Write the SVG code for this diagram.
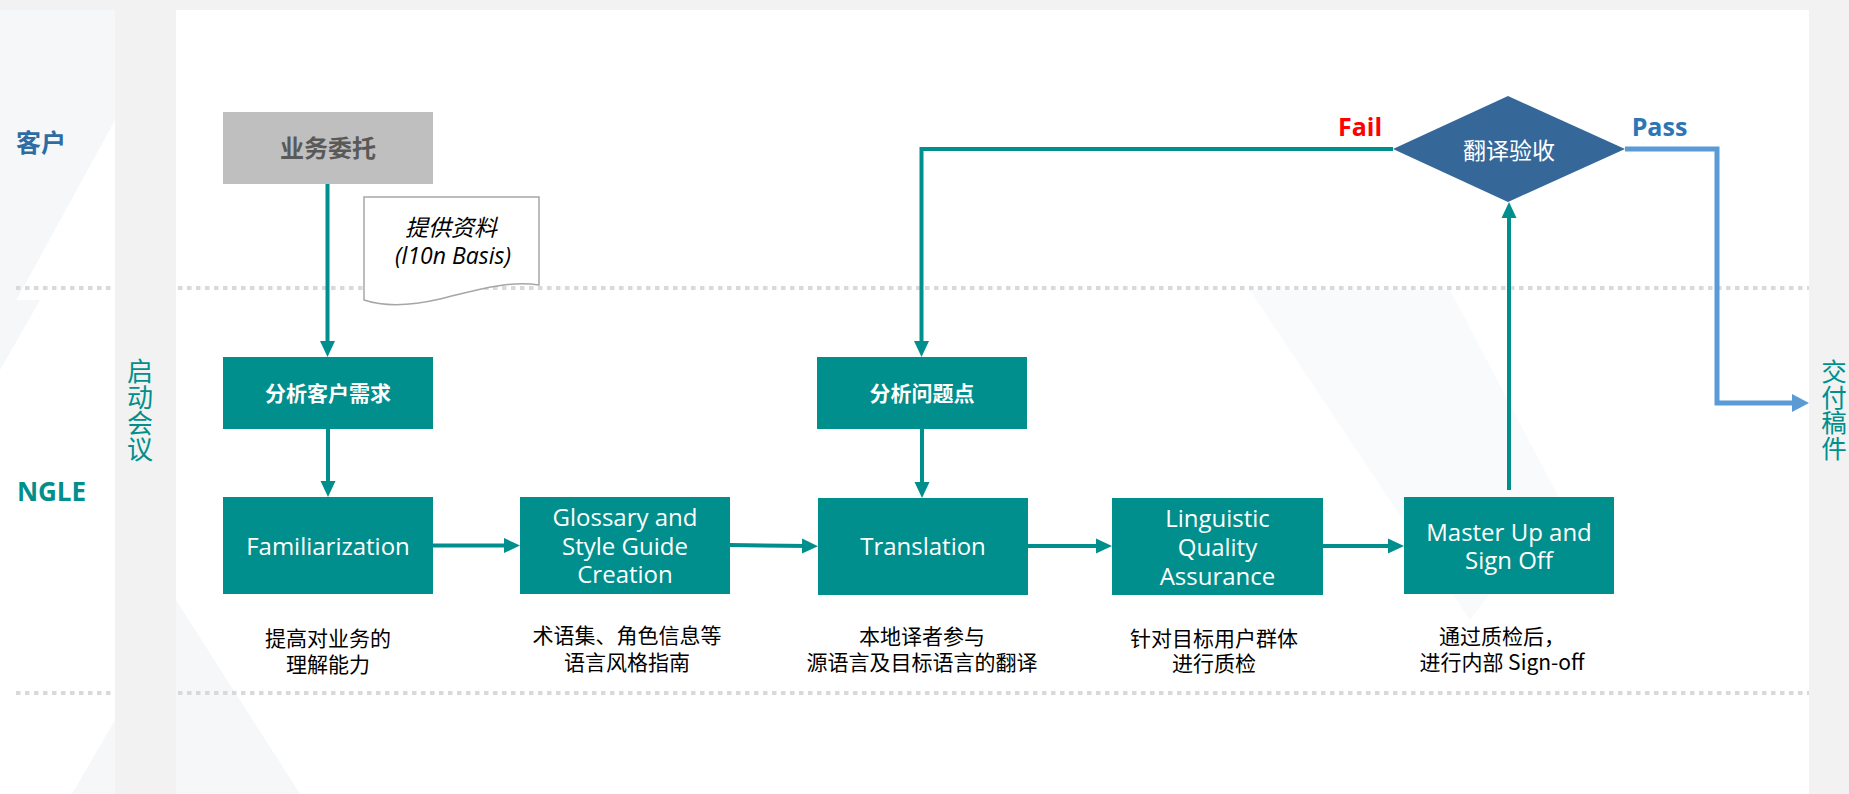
<svg xmlns="http://www.w3.org/2000/svg" width="1849" height="794" viewBox="0 0 1849 794">
<defs>
<style>
.box{fill:#008F8C}
.btxt{font-family:"Open Sans","Noto Sans",sans-serif;font-size:24px;fill:#fff;text-anchor:middle}
.cbtxt{font-family:"Noto Sans CJK SC",sans-serif;font-size:21px;font-weight:bold;fill:#fff;text-anchor:middle}
.desc{font-family:"Noto Sans CJK SC",sans-serif;font-size:21px;fill:#000;text-anchor:middle}
.conn{fill:none;stroke:#008F8C;stroke-width:4}
.dot{stroke:#D9D9D9;stroke-width:4;stroke-dasharray:4.5 4.5}
.vlab{font-family:"Noto Sans CJK SC",sans-serif;font-size:26px;fill:#008F8C;writing-mode:vertical-rl}
.faint{fill:#F5F7F8}
</style>
<marker id="ah" markerUnits="userSpaceOnUse" markerWidth="16" markerHeight="16" viewBox="0 0 16 16" refX="6" refY="8" orient="auto"><path d="M0,0.5 L16,8 L0,15.5 z" fill="#008F8C"/></marker>
</defs>
<rect width="1849" height="794" fill="#FFFFFF"/>
<rect x="0" y="0" width="1849" height="10" fill="#F2F2F2"/>
<g id="background">
<polygon class="faint" points="0,10 115,10 115,120 0,330"/>
<polygon class="faint" points="176,600 300,794 176,794"/>
<polygon class="faint" points="115,720 115,794 72,794"/>
<polygon class="faint" points="0,300 40,300 0,370"/>
<polygon class="faint" opacity="0.6" points="1250,290 1450,290 1560,500 1470,620"/>
</g>
<g id="lanes">
<line class="dot" x1="16" y1="288" x2="1809" y2="288"/>
<line class="dot" x1="16" y1="693" x2="1809" y2="693"/>
<rect x="115" y="10" width="61" height="784" fill="#F2F2F2"/>
<rect x="1809" y="10" width="40" height="784" fill="#F2F2F2"/>
</g>
<g id="labels">
<text x="41" y="152" style="font-family:'Noto Sans CJK SC',sans-serif;font-size:25px;font-weight:bold;fill:#2E6CA4;text-anchor:middle">客户</text>
<text x="51.5" y="501" style="font-family:'Open Sans',sans-serif;font-size:26px;font-weight:bold;fill:#008F8C;text-anchor:middle">NGLE</text>
<text class="vlab" x="140" y="358">启动会议</text>
<text class="vlab" x="1834" y="359" style="font-size:25.5px">交付稿件</text>
</g>
<g id="connectors">
<path class="conn" d="M327.5,184 V347" marker-end="url(#ah)"/>
<path class="conn" d="M328,429 V487" marker-end="url(#ah)"/>
<path class="conn" d="M433,545.5 H510" marker-end="url(#ah)"/>
<path class="conn" d="M730,545 L808,546" marker-end="url(#ah)"/>
<path class="conn" d="M922,429 V488" marker-end="url(#ah)"/>
<path class="conn" d="M1028,546 H1102" marker-end="url(#ah)"/>
<path class="conn" d="M1323,546 H1394" marker-end="url(#ah)"/>
<path class="conn" d="M1509,490 V212" marker-end="url(#ah)"/>
<path class="conn" d="M1393,149 H921.5 V347" marker-end="url(#ah)"/>
<path d="M1625,149 H1717 V403 H1794" fill="none" stroke="#5B9BD5" stroke-width="5"/>
<polygon points="1792,394 1809,403 1792,412" fill="#5B9BD5"/>
<text x="1360" y="136" style="font-family:'Open Sans',sans-serif;font-size:25px;font-weight:bold;fill:#FF0000;text-anchor:middle">Fail</text>
<text x="1659.5" y="136" style="font-family:'Open Sans',sans-serif;font-size:25px;font-weight:bold;fill:#2E75B6;text-anchor:middle">Pass</text>
</g>
<g id="node-entrust">
<rect x="223" y="112" width="210" height="72" fill="#BFBFBF"/>
<text x="328" y="157" style="font-family:'Noto Sans CJK SC',sans-serif;font-size:24px;font-weight:bold;fill:#595959;text-anchor:middle">业务委托</text>
</g>
<g id="node-doc">
<path d="M364,197 H539 V285 C505,280 470,292 440,299 C410,306 385,307 364,300 Z" fill="#FFFFFF" stroke="#A6A6A6" stroke-width="1.5"/>
<text x="451" y="236" style="font-family:'Noto Sans CJK SC',sans-serif;font-size:23px;font-style:italic;fill:#000;text-anchor:middle">提供资料</text>
<text x="453" y="264" style="font-family:'Open Sans',sans-serif;font-size:23px;font-style:italic;fill:#000;text-anchor:middle">(l10n Basis)</text>
</g>
<g id="node-analyze-client">
<rect class="box" x="223" y="357" width="210" height="72"/>
<text class="cbtxt" x="328" y="401">分析客户需求</text>
</g>
<g id="node-analyze-issue">
<rect class="box" x="817" y="357" width="210" height="72"/>
<text class="cbtxt" x="922" y="401">分析问题点</text>
</g>
<g id="node-familiarization">
<rect class="box" x="223" y="497" width="210" height="97"/>
<text class="btxt" x="328" y="554.5">Familiarization</text>
<text class="desc"><tspan x="328" y="646">提高对业务的</tspan><tspan x="328" y="672">理解能力</tspan></text>
</g>
<g id="node-glossary">
<rect class="box" x="520" y="497" width="210" height="97"/>
<text class="btxt"><tspan x="625" y="525.5">Glossary and</tspan><tspan x="625" y="554.5">Style Guide</tspan><tspan x="625" y="583">Creation</tspan></text>
<text class="desc"><tspan x="627" y="643">术语集、角色信息等</tspan><tspan x="627" y="670">语言风格指南</tspan></text>
</g>
<g id="node-translation">
<rect class="box" x="818" y="498" width="210" height="97"/>
<text class="btxt" x="923" y="555">Translation</text>
<text class="desc"><tspan x="922" y="644">本地译者参与</tspan><tspan x="922" y="670">源语言及目标语言的翻译</tspan></text>
</g>
<g id="node-lqa">
<rect class="box" x="1112" y="498" width="211" height="97"/>
<text class="btxt"><tspan x="1217.5" y="526.5">Linguistic</tspan><tspan x="1217.5" y="555.5">Quality</tspan><tspan x="1217.5" y="584.5">Assurance</tspan></text>
<text class="desc"><tspan x="1214" y="646">针对目标用户群体</tspan><tspan x="1214" y="671">进行质检</tspan></text>
</g>
<g id="node-master">
<rect class="box" x="1404" y="497" width="210" height="97"/>
<text class="btxt"><tspan x="1509" y="540.5">Master Up and</tspan><tspan x="1509" y="568.5">Sign Off</tspan></text>
<text class="desc"><tspan x="1502" y="644">通过质检后，</tspan><tspan x="1502" y="670">进行内部 Sign-off</tspan></text>
</g>
<g id="node-acceptance">
<polygon points="1393,149 1508,96 1625,149 1508,202" fill="#356899"/>
<text x="1509" y="158.5" style="font-family:'Noto Sans CJK SC',sans-serif;font-size:23px;fill:#fff;text-anchor:middle">翻译验收</text>
</g>
</svg>
